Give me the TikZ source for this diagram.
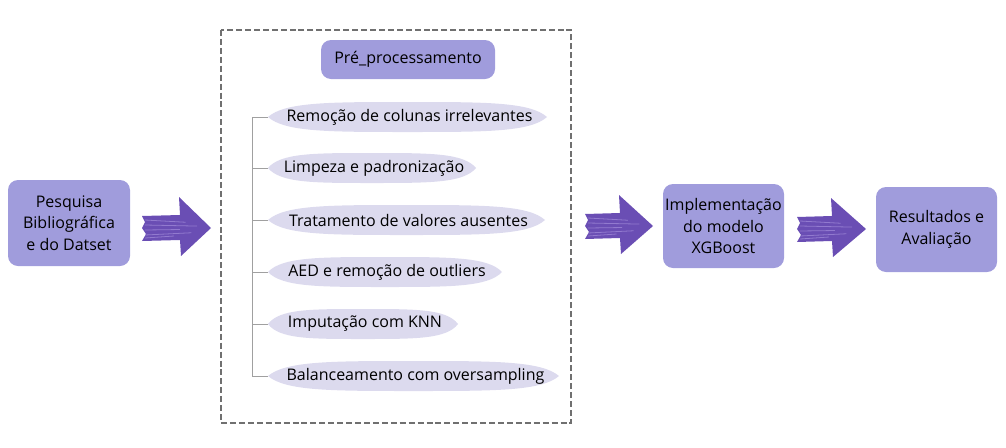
\documentclass[tikz,border=0pt]{standalone}
\usepackage{fontspec}
\setmainfont{Open Sans}
\usetikzlibrary{calc}
\definecolor{boxfill}{HTML}{A09CDC}
\definecolor{ellfill}{HTML}{DCDAEE}
\definecolor{arrowc}{HTML}{6A4EB4}
\definecolor{arrowl}{HTML}{9C86D6}
\definecolor{dashc}{HTML}{707070}
\definecolor{treec}{HTML}{A0A0A0}
\newcommand{\myfatarrow}[4]{% x0, xh, xt, yc
  \fill[arrowc] (#1,#4-12) -- (#2,#4-13) -- (#2-1,#4-31) -- (#3,#4) -- (#2+1,#4+28) -- (#2,#4+12) -- (#1,#4+13) -- (#1+4,#4+6) -- (#1,#4) -- (#1+3,#4-6) -- cycle;
  \foreach \dy/\len in {-8/0.7,-3/0.9,2/0.6,7/0.8,10/0.5} {
    \draw[arrowl,line width=0.6pt,opacity=0.8] (#1+3,#4+\dy) -- ($(#1+3,#4+\dy)!\len!(#3-8,#4+\dy*0.6)$);
  }
}
\newcommand{\mypill}[3]{% xl, xr, yc
  \fill[ellfill] (#1,#3) .. controls (#1+0.06*#2-0.06*#1,#3-15) and (#1+0.22*#2-0.22*#1,#3-15) .. ({(#1+#2)/2},#3-15)
    .. controls (#2-0.22*#2+0.22*#1,#3-15) and (#2-0.06*#2+0.06*#1,#3-15) .. (#2,#3)
    .. controls (#2-0.06*#2+0.06*#1,#3+15) and (#2-0.22*#2+0.22*#1,#3+15) .. ({(#1+#2)/2},#3+15)
    .. controls (#1+0.22*#2-0.22*#1,#3+15) and (#1+0.06*#2-0.06*#1,#3+15) .. cycle;
}
\begin{document}
\begin{tikzpicture}[x=0.75pt,y=-0.75pt,
  stage/.style={fill=boxfill,rounded corners=7.5pt,align=center,font=\fontsize{12}{16}\selectfont,inner sep=0pt},
  steptext/.style={font=\fontsize{12}{14}\selectfont,inner sep=0pt},
  tree/.style={draw=treec,line width=0.7pt}]
\useasboundingbox (0,0) rectangle (1006,447);
% main boxes
\node[stage,minimum width=122*0.75pt,minimum height=86*0.75pt] (pesq) at (69,223) {Pesquisa\\Bibliográfica\\e do Datset};
\node[stage,minimum width=121*0.75pt,minimum height=84*0.75pt] (impl) at (723.5,226) {Implementação\\do modelo\\XGBoost};
\node[stage,minimum width=121*0.75pt,minimum height=85*0.75pt] (res) at (936.5,229.5) {Resultados e\\Avaliação};
% dashed container
\draw[dashc,line width=1.5pt,dash pattern=on 4.5pt off 2.2pt] (221,30) rectangle (571,423);
\node[stage,minimum width=174*0.75pt,minimum height=39*0.75pt] (pre) at (408,59.5) {Pré\_processamento};
% sub steps
\foreach \n/\xl/\xr/\yc/\t in {
  s1/268/547/117/Remoção de colunas irrelevantes,
  s2/268/476/168/Limpeza e padronização,
  s3/268/545/220/Tratamento de valores ausentes,
  s4/268/502/272/AED e remoção de outliers,
  s5/268/458/324/Imputação com KNN,
  s6/268/559/376/Balanceamento com oversampling} {
  \mypill{\xl}{\xr}{\yc}
  \node[steptext] (\n) at ({(\xl+\xr)/2+2},\yc) {\t};
  \coordinate (\n w) at (\xl,\yc);
}
\coordinate (trunk top) at (252,117);
\coordinate (trunk bot) at (252,376);
\draw[tree] (trunk top) -- (trunk bot);
\foreach \n in {s1,s2,s3,s4,s5,s6} {
  \draw[tree] (\n w -| trunk top) -- (\n w);
}
% fat arrows
\myfatarrow{142}{180}{211}{228}
\myfatarrow{585}{620}{653}{226}
\myfatarrow{797}{832}{866}{229}
\end{tikzpicture}
\end{document}
